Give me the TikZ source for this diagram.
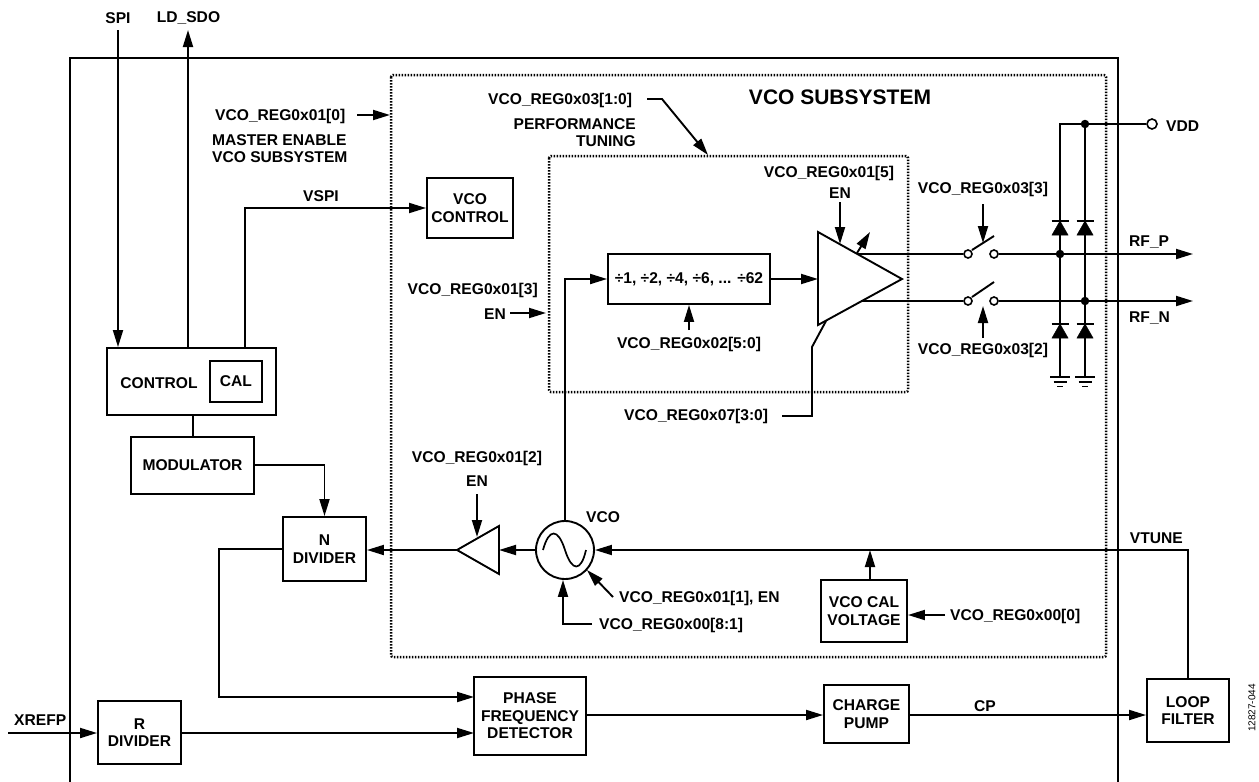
\documentclass[tikz,border=0pt]{standalone}
\usepackage{fontspec}
\setmainfont{Liberation Sans}
\usetikzlibrary{arrows.meta}
\tikzset{
  wire/.style={line width=1.9pt,line cap=butt,line join=miter},
  arr/.style={wire,-{Triangle[length=17pt,width=10pt]}},
  blk/.style={draw,line width=1.9pt,inner sep=0pt,align=center,font=\fontsize{15.6}{17.5}\selectfont\bfseries},
  lbl/.style={inner sep=0pt,align=center,yshift=-1pt,font=\fontsize{15.6}{17}\selectfont\bfseries},
  lblr/.style={lbl,align=right},
  lbll/.style={lbl,align=left},
  dotbox/.style={line width=2.5pt,dash pattern=on 1.5pt off 1.5pt,rounded corners=2pt},
  term/.style={circle,draw,fill=white,line width=1.6pt,minimum size=8pt,inner sep=0pt},
  bigterm/.style={term,minimum size=10pt},
  jdot/.style={circle,fill=black,minimum size=8.5pt,inner sep=0pt},
  dio/.style={fill=black,draw=black,line width=0.5pt},
}
\begin{document}
\begin{tikzpicture}[x=1pt,y=-1pt]
\useasboundingbox (0,0) rectangle (1259,782);
% frames
\coordinate (fa) at (70,782); \coordinate (fb) at (70,58); \coordinate (fc) at (1118,58); \coordinate (fd) at (1118,782);
\draw[wire] (fa) -- (fb) -- (fc) -- (fd);
\coordinate (sa) at (391,75); \coordinate (sb) at (1106,657);
\draw[dotbox] (sa) rectangle (sb);
\coordinate (ia) at (549,156); \coordinate (ib) at (908,392);
\draw[dotbox] (ia) rectangle (ib);
% blocks
\node[blk,minimum width=86pt,minimum height=60pt] (vctl) at (470,208) {VCO\\CONTROL};
\node[blk,minimum width=162pt,minimum height=50pt] (div) at (689,279) {÷1, ÷2, ÷4, ÷6, ... ÷62};
\node[blk,minimum width=169pt,minimum height=67pt] (ctl) at (191.5,381.5) {};
\node[blk,minimum width=52pt,minimum height=41pt] (cal) at (236,381.5) {CAL};
\node[lbl] (ctltxt) at (159,382) {CONTROL};
\node[blk,minimum width=123pt,minimum height=57pt] (mod) at (192.5,465.5) {MODULATOR};
\node[blk,minimum width=83pt,minimum height=64pt] (ndiv) at (324.5,549) {N\\DIVIDER};
\node[blk,minimum width=83pt,minimum height=63pt] (rdiv) at (139.5,732.5) {R\\DIVIDER};
\node[blk,minimum width=112pt,minimum height=78pt] (pfd) at (530,716) {PHASE\\FREQUENCY\\DETECTOR};
\node[blk,minimum width=85pt,minimum height=58pt] (chg) at (866.5,714) {CHARGE\\PUMP};
\node[blk,minimum width=82pt,minimum height=63pt] (loop) at (1188,710.5) {LOOP\\FILTER};
\node[blk,minimum width=86pt,minimum height=62pt] (vcal) at (864,611) {VCO CAL\\VOLTAGE};
% labels
\node[lbl] (tspi) at (118,17) {SPI};
\node[lbl] (tld) at (188.5,17) {LD\_SDO};
\node[lbl] (tvspi) at (321,195) {VSPI};
\node[lbl,font=\fontsize{21}{24}\selectfont\bfseries] (tsub) at (840,96) {VCO SUBSYSTEM};
\node[lbl,anchor=west] (t010) at (215,115) {VCO\_REG0x01[0]};
\node[lbll,anchor=north west] (tmaster) at (212,133) {MASTER ENABLE\\VCO SUBSYSTEM};
\node[lbl,anchor=west] (t031) at (488,99) {VCO\_REG0x03[1:0]};
\node[lblr,anchor=north east] (tperf) at (636,117) {PERFORMANCE\\TUNING};
\node[lbl] (t015) at (829,172) {VCO\_REG0x01[5]};
\node[lbl] (ten5) at (840,192) {EN};
\node[lbl] (t033) at (983,188) {VCO\_REG0x03[3]};
\node[lbl] (t032) at (983,349) {VCO\_REG0x03[2]};
\node[lbl,anchor=west] (tvdd) at (1166,125) {VDD};
\node[lbl,anchor=west] (trfp) at (1129,241) {RF\_P};
\node[lbl,anchor=west] (trfn) at (1129,317) {RF\_N};
\node[lbl,anchor=east] (t013) at (538,289) {VCO\_REG0x01[3]};
\node[lbl,anchor=east] (ten3) at (506,313) {EN};
\node[lbl] (t025) at (689,343) {VCO\_REG0x02[5:0]};
\node[lbl,anchor=west] (t073) at (624,415) {VCO\_REG0x07[3:0]};
\node[lbl] (t012) at (477,457) {VCO\_REG0x01[2]};
\node[lbl] (ten2) at (477,480) {EN};
\node[lbl,anchor=west] (tvco) at (586,516) {VCO};
\node[lbl,anchor=west] (t011) at (619,597) {VCO\_REG0x01[1], EN};
\node[lbl,anchor=west] (t008) at (599,624) {VCO\_REG0x00[8:1]};
\node[lbl,anchor=west] (t000) at (950,615) {VCO\_REG0x00[0]};
\node[lbl,anchor=east] (tvtune) at (1183,537) {VTUNE};
\node[lbl] (tcp) at (985,705) {CP};
\node[lbl,anchor=west] (txref) at (14,719) {XREFP};
\node[inner sep=0pt,rotate=90,font=\fontsize{10}{12}\selectfont] (tid) at (1252,708) {12827-044};
% left side wiring
\coordinate (spit) at (118,30);
\coordinate (ldt) at (188,30);
\draw[arr] (spit) -- (spit |- ctl.north);
\draw[arr] (ldt |- ctl.north) -- (ldt);
\coordinate (vsb) at (245,348);
\draw[arr] (vsb) |- (vctl.west);
\coordinate (cm) at (193,415);
\draw[wire] (cm) -- (cm |- mod.north);
\coordinate (mody) at (300,465);
\draw[arr] (mod.east |- mody) -| (ndiv.north);
\coordinate (nbend) at (219,549);
\coordinate (pin) at (474,697);
\draw[arr] (ndiv.west) -- (nbend) |- (pin);
\coordinate (xl) at (8,733);
\draw[arr] (xl) -- (rdiv.west |- xl);
\coordinate (p2) at (474,733);
\draw[arr] (rdiv.east |- p2) -- (p2);
\coordinate (cpy) at (700,715);
\draw[arr] (pfd.east |- cpy) -- (chg.west |- cpy);
\draw[arr] (chg.east |- cpy) -- (loop.west |- cpy);
% VCO
\node[circle,draw,line width=1.9pt,minimum size=58pt,inner sep=0pt] (vco) at (565,550) {};
\coordinate (s0) at (543,550); \coordinate (s1) at (565,550); \coordinate (s2) at (586,550);
\draw[line width=1.7pt] (s0) .. controls (549,528) and (558,528) .. (s1) .. controls (572,572) and (581,572) .. (s2);
\coordinate (a2t) at (457,550); \coordinate (a2a) at (499,526); \coordinate (a2b) at (499,574);
\draw[wire,line join=miter] (a2t) -- (a2a) -- (a2b) -- cycle;
\draw[arr] (vco.west) -- (a2b |- vco.west);
\draw[arr] (a2t) -- (ndiv.east |- a2t);
\coordinate (e2) at (477,494); \coordinate (e2t) at (477,537);
\draw[arr] (e2) -- (e2t);
\draw[arr] (loop.north) |- (vco.east);
\coordinate (calj) at (870,550);
\draw[arr] (vcal.north -| calj) -- (calj);
\coordinate (r0) at (945,615);
\draw[arr] (r0) -- (vcal.east |- r0);
\coordinate (r1) at (613,597); \coordinate (r1t) at (587,570);
\draw[arr] (r1) -- (r1t);
\coordinate (r8) at (592,624); \coordinate (r8b) at (563,624);
\draw[arr] (r8) -- (r8b) -- (vco.south -| r8b);
\draw[arr] (vco.north) |- (div.west);
% amp
\coordinate (aa) at (818,232); \coordinate (at) at (902,279); \coordinate (ab) at (818,325);
\draw[wire] (aa) -- (at) -- (ab) -- cycle;
\draw[arr] (div.east) -- (aa |- div.east);
\coordinate (e5) at (840,202); \coordinate (e5t) at (840,244);
\draw[arr] (e5) -- (e5t);
\coordinate (ga) at (857,253); \coordinate (gb) at (870,232);
\draw[arr] (ga) -- (gb);
\coordinate (r7) at (782,416); \coordinate (r7a) at (812,416); \coordinate (r7b) at (812,347); \coordinate (r7c) at (826,321);
\draw[wire] (r7) -- (r7a) -- (r7b) -- (r7c);
\coordinate (r2) at (689,330);
\draw[arr] (r2) -- (div.south -| r2);
% switches
\node[term] (swa) at (968,254) {};
\node[term] (swb) at (994,254) {};
\node[term] (swc) at (968,301) {};
\node[term] (swd) at (994,301) {};
\coordinate (oa) at (858,254); \coordinate (ob) at (862,301);
\draw[wire] (oa) -- (swa);
\draw[wire] (ob) -- (swc);
\coordinate (bla) at (972,250); \coordinate (blb) at (994,236);
\coordinate (blc) at (972,297); \coordinate (bld) at (994,282);
\draw[wire] (bla) -- (blb);
\draw[wire] (blc) -- (bld);
\coordinate (c3) at (983,204); \coordinate (c3t) at (983,243);
\draw[arr] (c3) -- (c3t);
\coordinate (c2) at (983,338); \coordinate (c2t) at (983,306);
\draw[arr] (c2) -- (c2t);
\coordinate (rp) at (1193,254); \coordinate (rn) at (1193,301);
\draw[arr] (swb) -- (rp);
\draw[arr] (swd) -- (rn);
% rail and diodes
\node[bigterm] (vdd) at (1152,124) {};
\coordinate (ra) at (1060,124);
\node[jdot] (j1) at (1085,124) {};
\node[jdot] (j2) at (1060,254) {};
\node[jdot] (j3) at (1085,301) {};
\draw[wire] (vdd) -- (ra) -- (1060,377);
\draw[wire] (j1) -- (1085,377);
\foreach \cx in {1060,1085}{
  \draw[dio] (\cx,221) -- (\cx-8,235) -- (\cx+8,235) -- cycle;
  \draw[wire,line width=1.4pt] (\cx-8.5,221) -- (\cx+8.5,221);
  \draw[dio] (\cx,324) -- (\cx-8,338) -- (\cx+8,338) -- cycle;
  \draw[wire,line width=1.4pt] (\cx-8.5,324) -- (\cx+8.5,324);
  \draw[wire,line width=1.6pt] (\cx-10,377) -- (\cx+10,377);
  \draw[wire,line width=1.6pt] (\cx-6.5,382) -- (\cx+6.5,382);
  \draw[wire,line width=1.6pt] (\cx-3,386.5) -- (\cx+3,386.5);
}
% register arrows
\coordinate (r10) at (357,115); \coordinate (r10t) at (390,115);
\draw[arr] (r10) -- (r10t);
\coordinate (r3) at (510,313); \coordinate (r3t) at (546,313);
\draw[arr] (r3) -- (r3t);
\coordinate (r4) at (647,99); \coordinate (r4b) at (662,99); \coordinate (r4t) at (708,155);
\draw[arr] (r4) -- (r4b) -- (r4t);
\end{tikzpicture}
\end{document}
